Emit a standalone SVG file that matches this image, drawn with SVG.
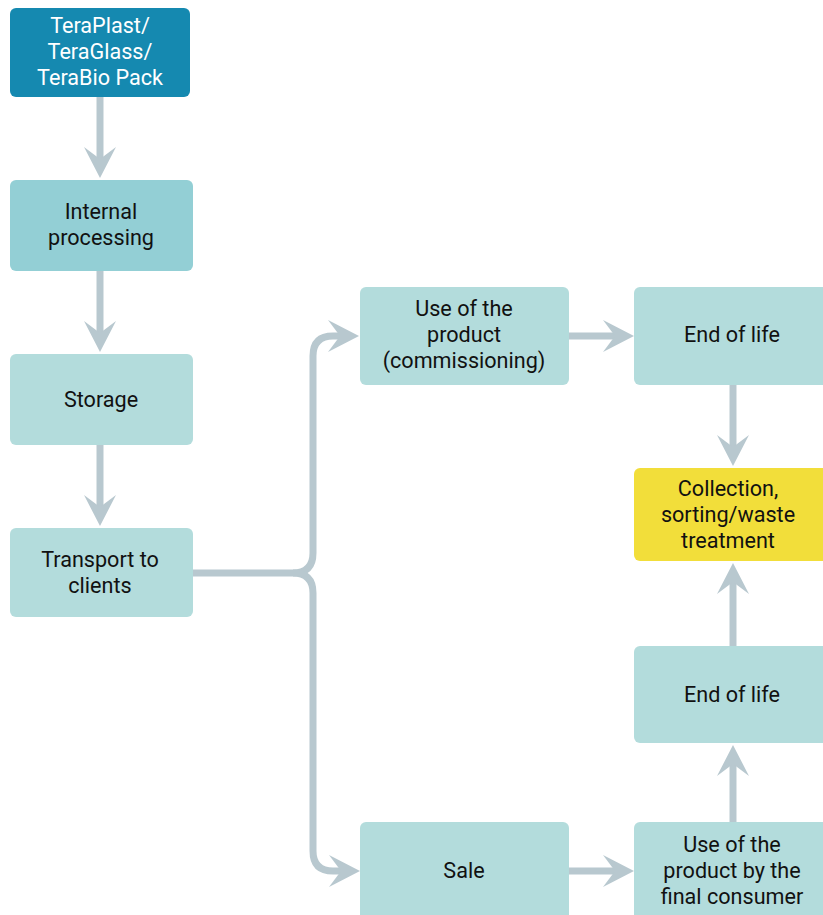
<svg xmlns="http://www.w3.org/2000/svg" width="823" height="915" viewBox="0 0 823 915">
<style>
.n{fill:#b3dcdc}
.t{font-family:Roboto,"Liberation Sans",sans-serif;font-size:21.6px;fill:#111;text-anchor:middle}
.w{fill:#fff}
.c{fill:none;stroke:#b8c8cf;stroke-width:7}
</style>
<defs>
<marker id="ah" markerUnits="userSpaceOnUse" markerWidth="40" markerHeight="40" refX="0" refY="0" orient="auto" overflow="visible" viewBox="-20 -20 40 40">
<path d="M17,0 L-14,-16 L-2,0 L-14,16 Z" fill="#b8c8cf"/>
</marker>
</defs>
<rect width="823" height="915" fill="#fff"/>
<g id="connectors">
<path class="c" d="M100,97 V161" marker-end="url(#ah)"/>
<path class="c" d="M100,271 V335" marker-end="url(#ah)"/>
<path class="c" d="M100,445 V509" marker-end="url(#ah)"/>
<path class="c" d="M193,573 H293 Q313,573 313,553 V356 Q313,336 333,336 H342" marker-end="url(#ah)"/>
<path class="c" d="M293,573 Q313,573 313,593 V851 Q313,871 333,871 H343" marker-end="url(#ah)"/>
<path class="c" d="M569,336 H617" marker-end="url(#ah)"/>
<path class="c" d="M733,385 V449" marker-end="url(#ah)"/>
<path class="c" d="M733,646 V580" marker-end="url(#ah)"/>
<path class="c" d="M733,822 V762" marker-end="url(#ah)"/>
<path class="c" d="M569,871 H617" marker-end="url(#ah)"/>
</g>
<g id="n1"><rect x="10" y="8" width="180" height="89" rx="6" fill="#1589b0"/>
<text class="t w" x="100" y="33">TeraPlast/</text><text class="t w" x="100" y="59">TeraGlass/</text><text class="t w" x="100" y="85">TeraBio Pack</text></g>
<g id="n2"><rect x="10" y="180" width="183" height="91" rx="6" fill="#93cfd5"/>
<text class="t" x="101" y="219">Internal</text><text class="t" x="101" y="245">processing</text></g>
<g id="n3"><rect class="n" x="10" y="354" width="183" height="91" rx="6"/>
<text class="t" x="101" y="407">Storage</text></g>
<g id="n4"><rect class="n" x="10" y="528" width="183" height="89" rx="6"/>
<text class="t" x="100" y="567">Transport to</text><text class="t" x="100" y="593">clients</text></g>
<g id="n5"><rect class="n" x="360" y="287" width="209" height="98" rx="6"/>
<text class="t" x="464" y="316">Use of the</text><text class="t" x="464" y="342">product</text><text class="t" x="464" y="368">(commissioning)</text></g>
<g id="n6"><rect class="n" x="634" y="287" width="200" height="98" rx="6"/>
<text class="t" x="732" y="342">End of life</text></g>
<g id="n7"><rect x="634" y="468" width="200" height="93" rx="6" fill="#f2de3a"/>
<text class="t" x="728" y="496">Collection,</text><text class="t" x="728" y="522">sorting/waste</text><text class="t" x="728" y="548">treatment</text></g>
<g id="n8"><rect class="n" x="634" y="646" width="200" height="97" rx="6"/>
<text class="t" x="732" y="702">End of life</text></g>
<g id="n9"><rect class="n" x="360" y="822" width="209" height="110" rx="6"/>
<text class="t" x="464" y="878">Sale</text></g>
<g id="n10"><rect class="n" x="634" y="822" width="200" height="110" rx="6"/>
<text class="t" x="732" y="852">Use of the</text><text class="t" x="732" y="878">product by the</text><text class="t" x="732" y="904">final consumer</text></g>
</svg>
